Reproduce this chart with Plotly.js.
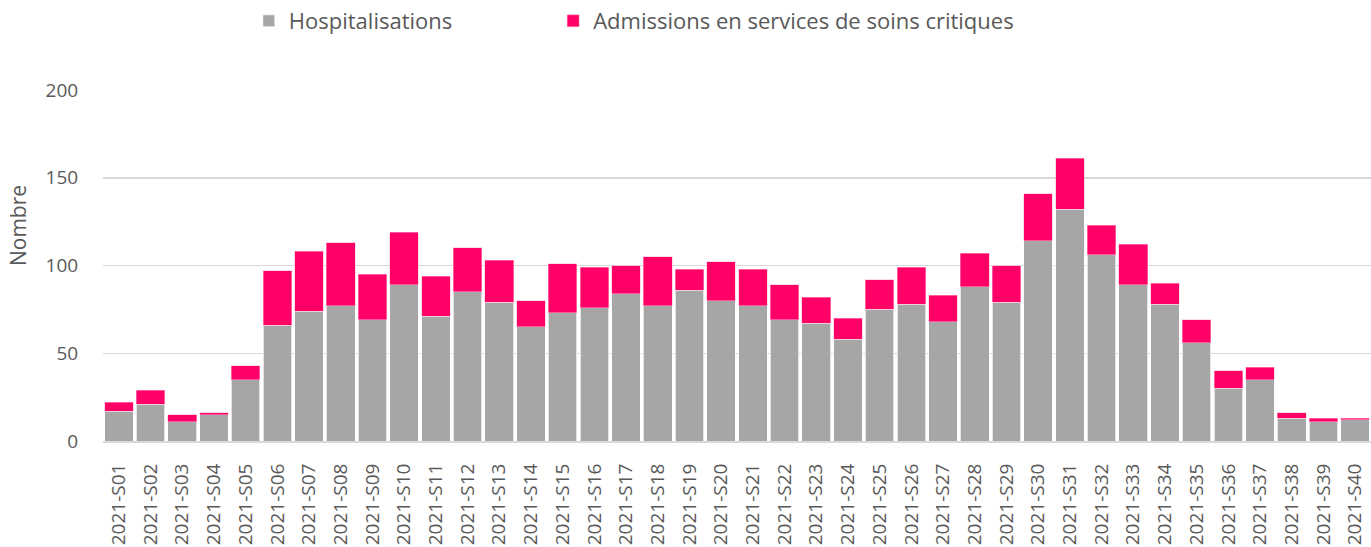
<!DOCTYPE html>
<html>
<head>
<meta charset="utf-8">
<script src="https://cdn.plot.ly/plotly-3.0.1.min.js"></script>
<style>html,body{margin:0;padding:0;background:#fff;}#chart{width:1371px;height:547px;}</style>
</head>
<body>
<div id="chart"></div>
<script>
const weeks = ["2021-S01","2021-S02","2021-S03","2021-S04","2021-S05","2021-S06","2021-S07","2021-S08","2021-S09","2021-S10",
"2021-S11","2021-S12","2021-S13","2021-S14","2021-S15","2021-S16","2021-S17","2021-S18","2021-S19","2021-S20",
"2021-S21","2021-S22","2021-S23","2021-S24","2021-S25","2021-S26","2021-S27","2021-S28","2021-S29","2021-S30",
"2021-S31","2021-S32","2021-S33","2021-S34","2021-S35","2021-S36","2021-S37","2021-S38","2021-S39","2021-S40"];
const hospitalisations = [17,21,11,15,35,66,74,77,69,89,71,85,79,65,73,76,84,77,86,80,77,69,67,58,75,78,68,88,79,114,132,106,89,78,56,30,35,13,11,12];
const soinsCritiques = [5,8,4,1,8,31,34,36,26,30,23,25,24,15,28,23,16,28,12,22,21,20,15,12,17,21,15,19,21,27,29,17,23,12,13,10,7,3,2,1];

const font = "'Open Sans', 'Noto Sans', sans-serif";
const data = [
  {type:'bar', name:'Hospitalisations', x:weeks, y:hospitalisations, legend:'legend',
   marker:{color:'#a6a6a6', line:{color:'#ffffff', width:0.7}}},
  {type:'bar', name:'Admissions en services de soins critiques', x:weeks, y:soinsCritiques, legend:'legend2',
   marker:{color:'#ff0066', line:{color:'#ffb3d1', width:0.5}}}
];
const legendBase = {orientation:'h', xanchor:'left', y:1, yanchor:'top', yref:'container',
                    font:{size:22, color:'#595959'}, itemclick:false, bgcolor:'rgba(0,0,0,0)'};
const layout = {
  width:1371, height:547,
  margin:{l:103, r:0, t:90, b:106},
  barmode:'stack', bargap:0.1,
  paper_bgcolor:'#ffffff', plot_bgcolor:'#ffffff',
  font:{family:font, color:'#595959', size:18},
  showlegend:true,
  legend:Object.assign({}, legendBase, {x:0.115}),
  legend2:Object.assign({}, legendBase, {x:0.355}),
  xaxis:{type:'category', tickangle:-90, tickfont:{size:19, color:'#595959'},
         showgrid:false, showline:true, linecolor:'#d9d9d9', linewidth:2,
         ticks:'outside', ticklen:13, tickcolor:'rgba(0,0,0,0)', range:[-0.5,39.5]},
  yaxis:{range:[0,200], dtick:50, tickfont:{size:19, color:'#595959'},
         gridcolor:'#d9d9d9', gridwidth:1.5, zeroline:false, showline:false,
         ticks:'outside', ticklen:20, tickcolor:'rgba(0,0,0,0)'},
  annotations:[{text:'Nombre', xref:'paper', yref:'paper', x:-0.067, y:0.6125,
                xanchor:'center', yanchor:'middle', textangle:-90, showarrow:false,
                font:{size:21, color:'#595959'}}]
};
Plotly.newPlot('chart', data, layout, {displayModeBar:false, staticPlot:true});
</script>
</body>
</html>
